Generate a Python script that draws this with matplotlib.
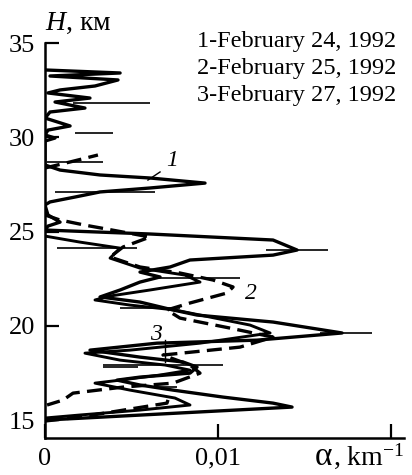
import numpy as np
import matplotlib
matplotlib.use('Agg')
import matplotlib.pyplot as plt

plt.rcParams['font.family'] = ['Liberation Serif', 'DejaVu Serif']
plt.rcParams['mathtext.fontset'] = 'custom'
plt.rcParams['mathtext.rm'] = 'Liberation Serif'
plt.rcParams['mathtext.it'] = 'Liberation Serif:italic'

# alpha in units of 1e-3 km^-1, H in km
# curve 1 - February 24, 1992
a1 = [0, 4.34, 0.29, 4.22, 2.89, 0.87, 0.17, 2.60, 0.58, 2.31, 0.29, 0, 1.45, 0.17, 0, 0.58, 0,
      0, 0.87, 3.18, 6.07, 9.25, 6.07, 3.18, 1.73, 0.29, 0, 0.17, 0.87, 0.17, 0,
      6.07, 13.18, 14.57, 13.18, 8.38, 7.23, 5.49, 6.65, 5.49, 4.34, 3.18, 5.49, 7.40, 8.79,
      13.18, 17.17, 12.25, 6.47, 2.60, 5.49, 7.98, 8.79, 8.38, 5.49, 4.16, 5.49, 7.40, 10.29,
      13.18, 14.28, 0]
h1 = [33.57, 33.41, 33.25, 33.04, 32.72, 32.51, 32.35, 32.08, 31.87, 31.55, 31.34, 31.02, 30.60, 30.38, 30.12, 29.96, 29.80,
      28.53, 28.26, 28.00, 27.84, 27.57, 27.31, 27.10, 26.83, 26.57, 26.41, 25.88, 25.50, 25.29, 25.08,
      24.87, 24.55, 24.02, 23.75, 23.49, 23.12, 22.85, 22.59, 22.32, 21.90, 21.53, 21.26, 20.84, 20.57,
      20.20, 19.62, 19.24, 19.08, 18.71, 18.34, 18.08, 17.81, 17.49, 17.28, 17.12, 16.86, 16.59, 16.22,
      15.90, 15.69, 15.00]

# curve 2 - February 25, 1992 (NaN = break)
a2 = [0, 1.45, 3.06, np.nan,
      0, 0.87, 2.31, 3.58, 6.07, 4.51, 3.76, 5.49, 7.80, 9.71, 10.87, 10.52, 8.38, 7.05, 7.80,
      10.69, 13.18, 11.27, 6.82, 8.38, 8.96, 7.40, 4.51, 1.62, 1.04, 0.12, np.nan,
      0, 2.02, 7.05, 7.23]
h2 = [28.37, 28.69, 29.06, np.nan,
      25.88, 25.61, 25.34, 25.13, 24.71, 24.18, 23.65, 23.12, 22.80, 22.43, 22.06, 21.74, 21.21, 20.84, 20.41,
      19.88, 19.40, 18.87, 18.45, 17.92, 17.49, 16.96, 16.75, 16.43, 16.06, 15.80, np.nan,
      14.95, 15.16, 15.90, 16.43]

# curve 3 - February 27, 1992
a3 = [0, 2.02, 4.34, 3.76, 5.49, 8.09, 8.96, 6.07, 3.76, 2.89, 4.91, 7.51, 9.83, 11.85, 13.01,
      8.96, 4.91, 2.31, 4.34, 6.94, 8.38, 6.65, 4.34, 2.89, 4.91, 7.51, 8.38, 5.49, 2.02, 0]
h3 = [24.76, 24.44, 24.12, 23.59, 23.06, 22.69, 22.32, 21.90, 21.58, 21.37, 21.10, 20.84, 20.41, 20.04, 19.62,
      19.08, 18.71, 18.55, 18.18, 17.92, 17.65, 17.39, 17.12, 16.96, 16.59, 16.17, 15.80, 15.53, 15.27, 15.11]

# error bars: height, left, right
err_h = [31.82, 30.23, 28.69, 27.10, 24.02, 24.12, 22.53, 20.94, 19.62, 17.92, 17.81, 16.75]
err_lo = [1.62, 1.73, 0.12, 0.58, 12.77, 0.69, 6.24, 4.34, 15.90, 3.35, 3.35, 6.24]
err_hi = [6.07, 3.93, 3.35, 6.36, 16.36, 5.32, 11.27, 7.80, 18.90, 10.29, 5.38, 7.63]

legend_lines = ['1-February 24, 1992', '2-February 25, 1992', '3-February 27, 1992']

fig = plt.figure(figsize=(4.12, 4.75), dpi=100)
ax = fig.add_axes([45/412, 37/475, 359/412, 395/475])

ax.plot(a1, h1, color='black', lw=2.4, solid_joinstyle='round')
ax.plot(a3, h3, color='black', lw=2.1, solid_joinstyle='round')
ax.plot(a2, h2, color='black', lw=2.4, ls=(0, (4.5, 2.2)))
ax.hlines(err_h, err_lo, err_hi, color='black', lw=1.2)

# curve labels
ax.text(7.34, 28.79, '1', fontsize=17, style='italic', ha='center', va='center')
ax.plot([6.65, 5.95], [28.16, 27.73], color='black', lw=1)
ax.text(11.9, 21.7, '2', fontsize=17, style='italic', ha='center', va='center')
ax.text(6.4, 19.55, '3', fontsize=17, style='italic', ha='center', va='center')
ax.plot([6.94, 6.94], [19.24, 18.08], color='black', lw=1)

ax.set_xlim(0, 20.75)
ax.set_ylim(14.05, 35)
ax.spines['top'].set_visible(False)
ax.spines['right'].set_visible(False)
for s in ['left', 'bottom']:
    ax.spines[s].set_linewidth(1.8)
ax.set_xticks([0, 10, 20])
ax.set_xticklabels(['0', '0,01', ''])
ax.set_yticks([15, 20, 25, 30, 35])
ax.tick_params(direction='in', length=10, width=1.6, labelsize=19, pad=7)

fig.text(45/412, 1 - 30/475, '$H$, км', fontsize=20, ha='left', va='baseline')
fig.text(315/412, 1 - 465/475, 'α', fontsize=24, ha='left', va='baseline')
fig.text(404/412, 1 - 465/475, ', km$^{-1}$', fontsize=20, ha='right', va='baseline')
for i, t in enumerate(legend_lines):
    fig.text(197/412, 1 - (42 + i*26.5)/475, t, fontsize=17.5, ha='left', va='center')

fig.savefig('out.png', dpi=100)
